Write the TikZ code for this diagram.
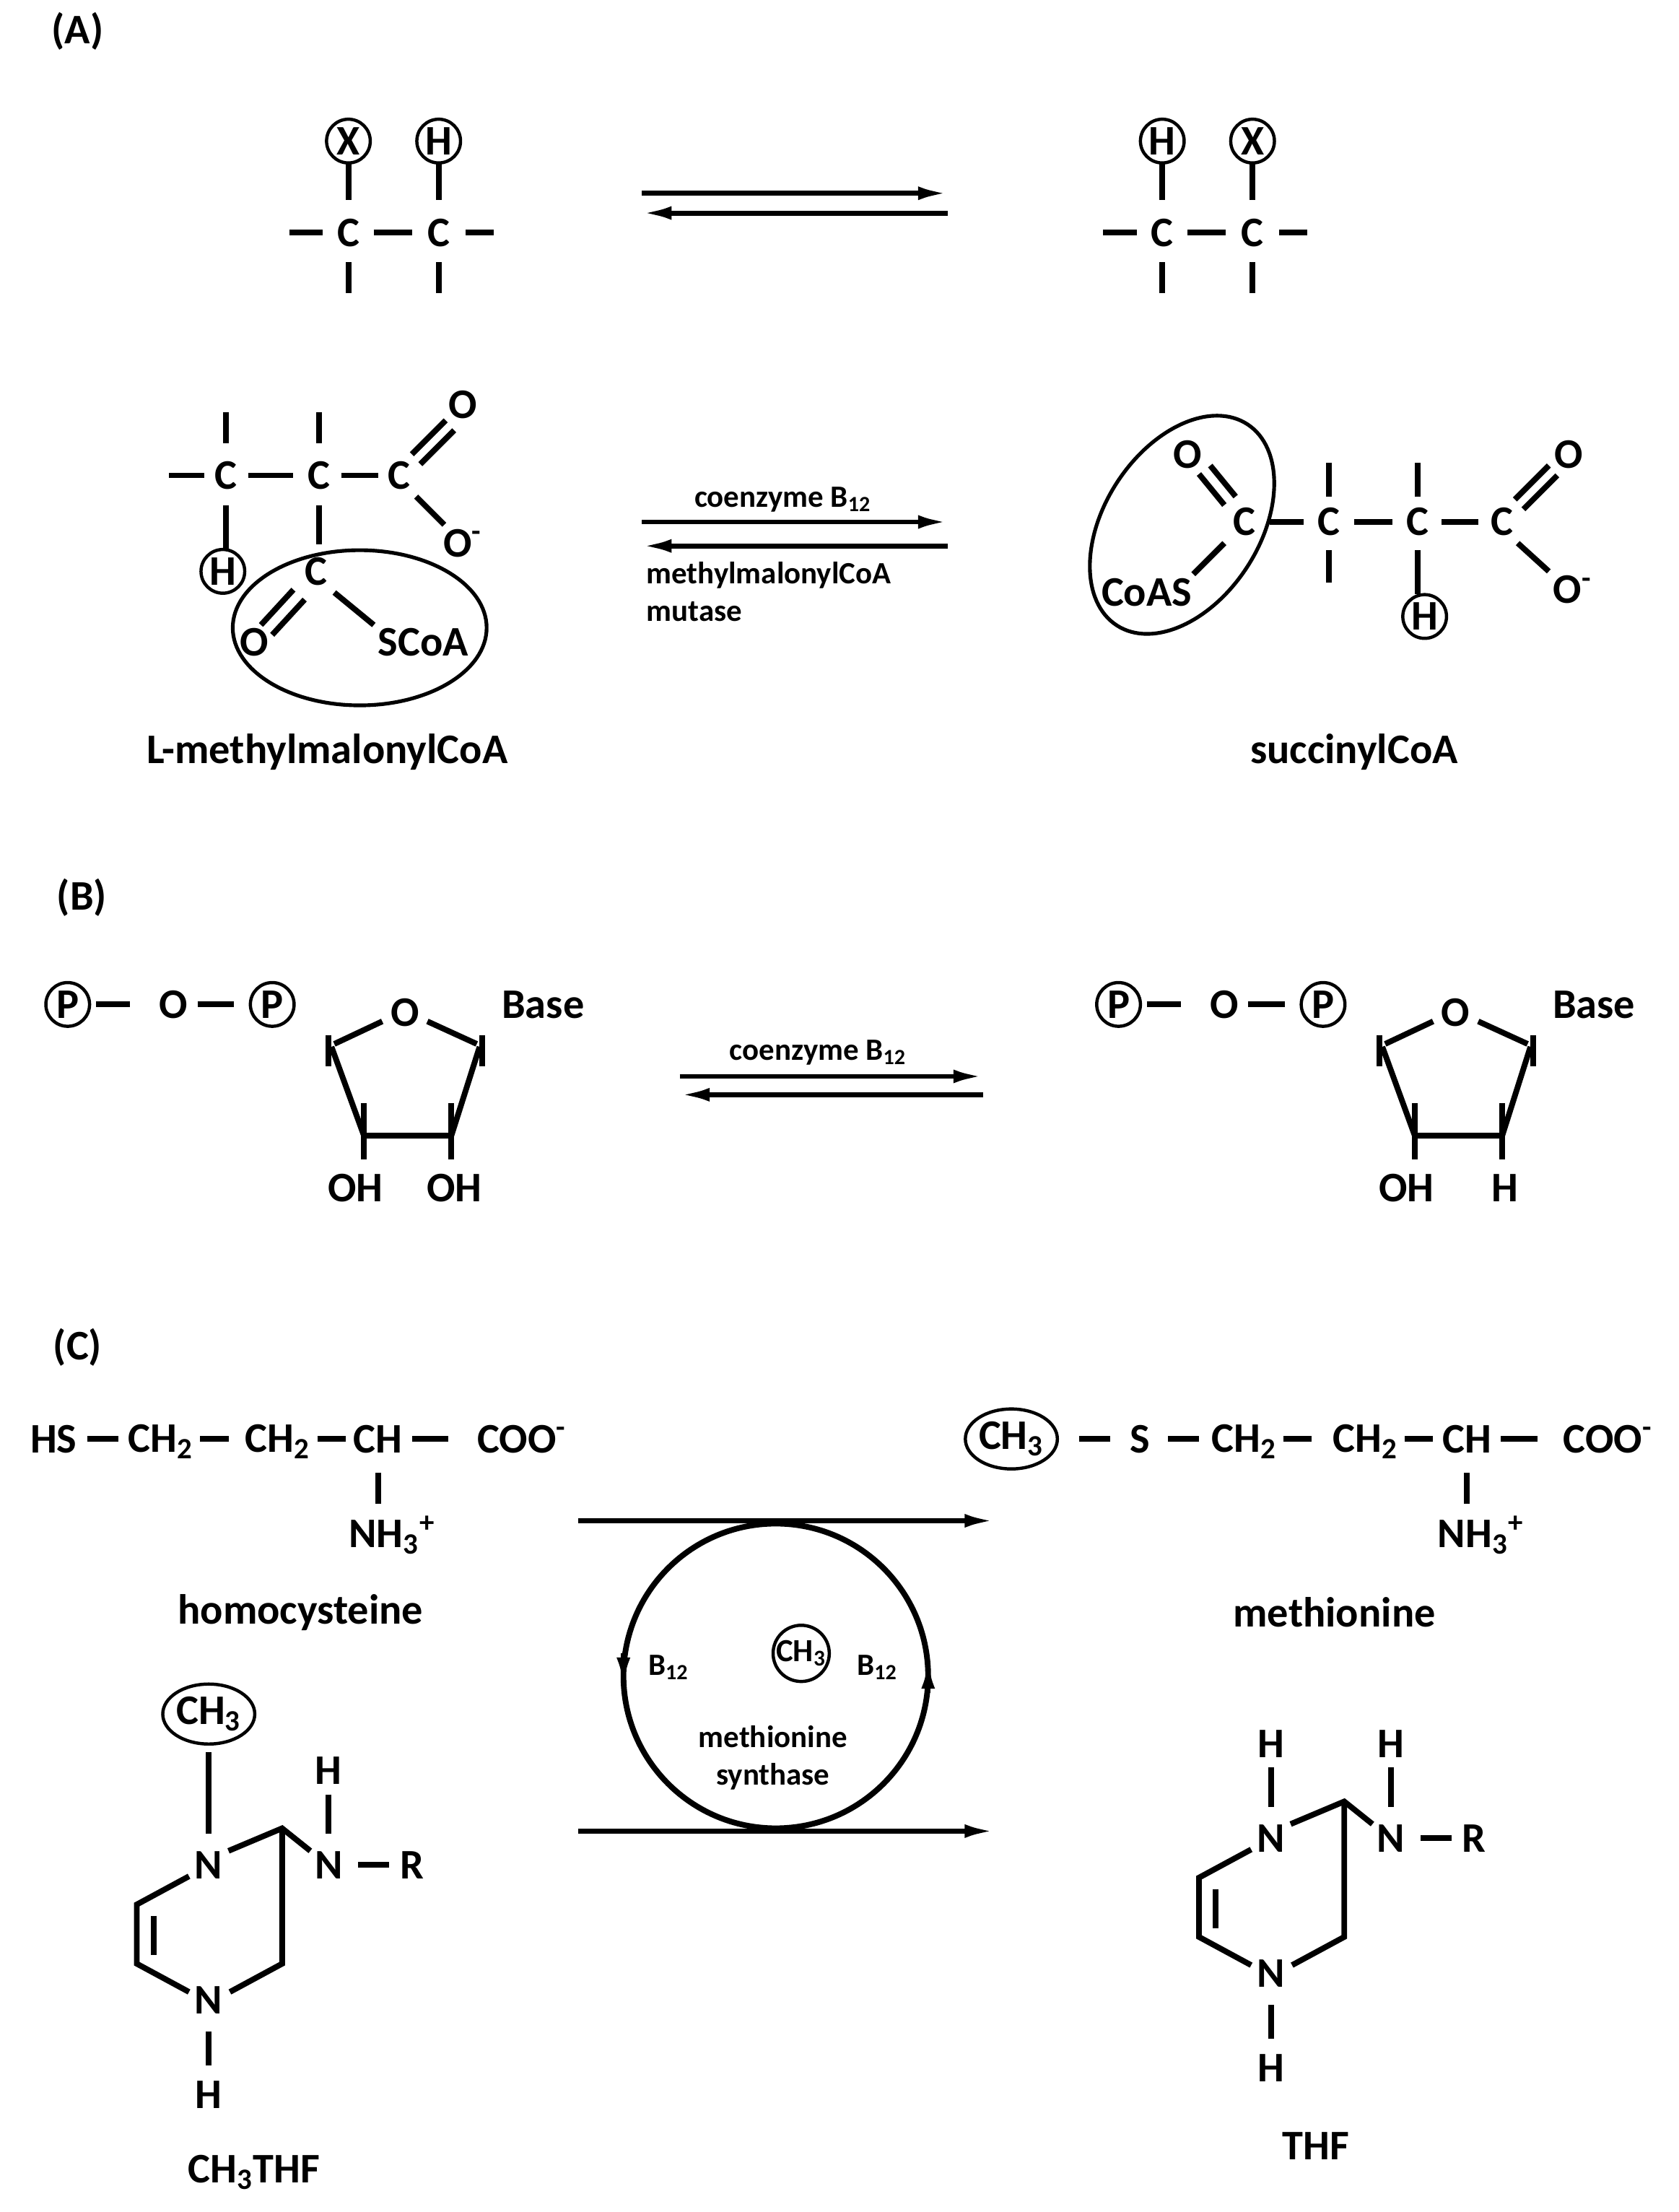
\documentclass[tikz,border=0pt]{standalone}
\usepackage{fontspec}
\setmainfont{Carlito}
\usetikzlibrary{arrows.meta,shapes.geometric}
\begin{document}
\begin{tikzpicture}[x=0.02cm,y=-0.02cm,
  bond/.style={line width=2.3pt},
  react/.style={line width=2pt,-{Latex[length=12pt,width=5.5pt]}},
  atom/.style={font=\fontsize{17}{20}\selectfont\bfseries,inner sep=0pt},
  small/.style={font=\fontsize{12.5}{15}\selectfont\bfseries,inner sep=0pt,align=left},
  grp/.style={atom,draw,circle,line width=1.3pt,minimum size=0.62cm},
  grpwide/.style={atom,draw,ellipse,line width=1.3pt,minimum width=1.15cm,minimum height=0.85cm}
  ]
\useasboundingbox (0,0) rectangle (1190,1568);
% panel labels
\node[atom] (lA) at (55,22) {(A)};
\node[atom] (lB) at (58,636) {(B)};
\node[atom] (lC) at (55,955) {(C)};

% (A) general rearrangement
\foreach \cx/\l/\r in {247/X/H,824/H/X}{
  \node[grp] (m1) at (\cx,100) {\l};
  \node[grp] (m2) at (\cx+64,100) {\r};
  \node[atom] at (\cx,165) {C};
  \node[atom] at (\cx+64,165) {C};
  \draw[bond] (\cx,116)--(\cx,142) (\cx+64,116)--(\cx+64,142);
  \draw[bond] (\cx-42,165)--(\cx-18,165) (\cx+18,165)--(\cx+45,165) (\cx+83,165)--(\cx+103,165);
  \draw[bond] (\cx,186)--(\cx,208) (\cx+64,186)--(\cx+64,208);
}
\coordinate (e1) at (455,137); \coordinate (e2) at (672,137);
\coordinate (e3) at (672,151); \coordinate (e4) at (455,151);
\draw[react] (e1)--(e2);
\draw[react] (e3)--(e4);

% L-methylmalonylCoA
\node[atom] (c1) at (160,337) {C};
\node[atom] (c2) at (226,337) {C};
\node[atom] (c3) at (283,337) {C};
\node[atom] (o1) at (328,287) {O};
\node[atom] (o2) at (328,385) {O\textsuperscript{-}};
\node[grp] (h1) at (158,405) {H};
\node[atom] (c4) at (224,405) {C};
\node[atom] (o3) at (180,455) {O};
\node[atom] (s1) at (300,455) {SCoA};
\draw[bond] (120,337)--(145,337) (176,337)--(208,337) (242,337)--(268,337);
\draw[bond] (160,292)--(160,314) (226,292)--(226,314);
\draw[bond] (160,358)--(160,389) (226,358)--(226,386);
\draw[bond] (292,322)--(316,298) (298,329)--(322,305);
\draw[bond] (295,352)--(315,372);
\draw[bond] (208,418)--(185,443) (216,425)--(193,450);
\draw[bond] (237,420)--(265,443);
\draw[line width=1.5pt] (255,445) ellipse [x radius=90,y radius=55];
\node[atom] (n1) at (232,533) {L-methylmalonylCoA};

% mutase arrows
\coordinate (f1) at (455,370); \coordinate (f2) at (672,370);
\coordinate (f3) at (672,387); \coordinate (f4) at (455,387);
\draw[react] (f1)--(f2);
\draw[react] (f3)--(f4);
\node[small] (k1) at (555,354) {coenzyme B\textsubscript{12}};
\node[small,anchor=north west] (k2) at (458,398) {methylmalonylCoA\\mutase};

% succinylCoA
\node[atom] (d0) at (842,322) {O};
\node[atom] (d1) at (882,370) {C};
\node[atom] (d5) at (813,420) {CoAS};
\node[atom] (d2) at (942,370) {C};
\node[atom] (d3) at (1005,370) {C};
\node[atom] (d4) at (1065,370) {C};
\node[atom] (d6) at (1112,322) {O};
\node[atom] (d7) at (1115,418) {O\textsuperscript{-}};
\node[grp] (h2) at (1010,437) {H};
\draw[bond] (850,336)--(868,358) (858,330)--(876,352);
\draw[bond] (868,385)--(846,407);
\draw[bond] (900,370)--(924,370) (960,370)--(987,370) (1022,370)--(1048,370);
\draw[bond] (942,328)--(942,352) (1005,328)--(1005,352);
\draw[bond] (942,390)--(942,413) (1005,390)--(1005,421);
\draw[bond] (1074,354)--(1098,330) (1080,361)--(1104,337);
\draw[bond] (1076,385)--(1098,405);
\draw[line width=1.5pt,rotate around={57:(838,372)}] (838,372) ellipse [x radius=85,y radius=55];
\node[atom] (n2) at (960,533) {succinylCoA};

% (B) ribose to deoxyribose
\foreach \dx/\lo/\ro in {0/OH/OH,745/OH/H}{
  \begin{scope}[shift={(\dx,0)}]
  \node[grp] (p1) at (48,712) {P};
  \node[atom] (o4) at (123,712) {O};
  \node[grp] (p2) at (193,712) {P};
  \node[atom] (o5) at (287,718) {O};
  \node[atom] (b1) at (385,712) {Base};
  \node[atom] (r1) at (252,842) {\lo};
  \node[atom] (r2) at (322,842) {\ro};
  \draw[bond] (68,712)--(92,712) (140,712)--(166,712);
  \draw[bond] (271,724)--(237,740) (303,724)--(338,740);
  \draw[bond] (235,742)--(258,805)--(320,805)--(340,742);
  \draw[bond] (233,734)--(233,756) (342,734)--(342,756);
  \draw[bond] (258,782)--(258,822) (320,782)--(320,822);
  \end{scope}
}
\coordinate (g1) at (482,763); \coordinate (g2) at (697,763);
\coordinate (g3) at (697,776); \coordinate (g4) at (482,776);
\draw[react] (g1)--(g2);
\draw[react] (g3)--(g4);
\node[small] (k3) at (580,746) {coenzyme B\textsubscript{12}};

% (C) homocysteine
\node[atom] (hs) at (38,1020) {HS};
\node[atom] (hc1) at (114,1022) {CH\textsubscript{2}};
\node[atom] (hc2) at (197,1022) {CH\textsubscript{2}};
\node[atom] (hc3) at (268,1020) {CH};
\node[atom] (hc4) at (370,1020) {COO\textsuperscript{-}};
\node[atom] (hn) at (278,1088) {NH\textsubscript{3}\textsuperscript{+}};
\draw[bond] (62,1020)--(84,1020) (142,1020)--(162,1020) (225,1020)--(245,1020) (292,1020)--(318,1020);
\draw[bond] (268,1044)--(268,1066);
\node[atom] (n3) at (213,1143) {homocysteine};

% methionine
\node[grpwide] (mc0) at (717,1020) {CH\textsubscript{3}};
\node[atom] (ms) at (808,1020) {S};
\node[atom] (mc1) at (882,1022) {CH\textsubscript{2}};
\node[atom] (mc2) at (968,1022) {CH\textsubscript{2}};
\node[atom] (mc3) at (1040,1020) {CH};
\node[atom] (mc4) at (1140,1020) {COO\textsuperscript{-}};
\node[atom] (mn) at (1050,1088) {NH\textsubscript{3}\textsuperscript{+}};
\draw[bond] (765,1020)--(787,1020) (828,1020)--(850,1020) (910,1020)--(930,1020) (996,1020)--(1016,1020) (1064,1020)--(1090,1020);
\draw[bond] (1040,1044)--(1040,1066);
\node[atom] (n4) at (946,1143) {methionine};

% methionine synthase cycle
\coordinate (t1) at (410,1078); \coordinate (t2) at (705,1078);
\coordinate (t3) at (410,1298); \coordinate (t4) at (705,1298);
\draw[react] (t1)--(t2);
\draw[react] (t3)--(t4);
\draw[line width=2.3pt] (550,1188) circle [radius=108];
\coordinate (u1) at (442,1172); \coordinate (u2) at (442,1196);
\coordinate (u3) at (658,1200); \coordinate (u4) at (658,1176);
\draw[react] (u1)--(u2);
\draw[react] (u3)--(u4);
\node[small] (k4) at (474,1182) {B\textsubscript{12}};
\node[grp,font=\fontsize{13}{15}\selectfont\bfseries,minimum size=0.6cm] (k5) at (568,1172) {CH\textsubscript{3}};
\node[small] (k6) at (622,1182) {B\textsubscript{12}};
\node[small,align=center] (k7) at (548,1246) {methionine\\synthase};

% CH3THF and THF
\foreach \dx/\dy/\lab in {0/0/CH\textsubscript{3}THF,753/-19/THF}{
  \begin{scope}[shift={(\dx,\dy)}]
  \node[atom] (na) at (148,1322) {N};
  \node[atom] (nb) at (233,1322) {N};
  \node[atom] (rr) at (292,1322) {R};
  \node[atom] (nc) at (148,1418) {N};
  \node[atom] (hb) at (233,1255) {H};
  \node[atom] (hc) at (148,1485) {H};
  \draw[bond] (162,1312)--(200,1296)--(220,1312);
  \draw[bond] (200,1296)--(200,1392)--(163,1412);
  \draw[bond] (134,1330)--(97,1350)--(97,1392)--(134,1412);
  \draw[bond] (109,1358)--(109,1386);
  \draw[bond] (233,1272)--(233,1300) (254,1322)--(276,1322);
  \draw[bond] (148,1440)--(148,1464);
  \node[atom] (nl) at (180,1540) {\lab};
  \end{scope}
}
\node[grpwide] (tm) at (148,1215) {CH\textsubscript{3}};
\draw[bond] (148,1242)--(148,1300);
\node[atom] (th) at (901,1236) {H};
\draw[bond] (901,1253)--(901,1281);
\end{tikzpicture}
\end{document}
